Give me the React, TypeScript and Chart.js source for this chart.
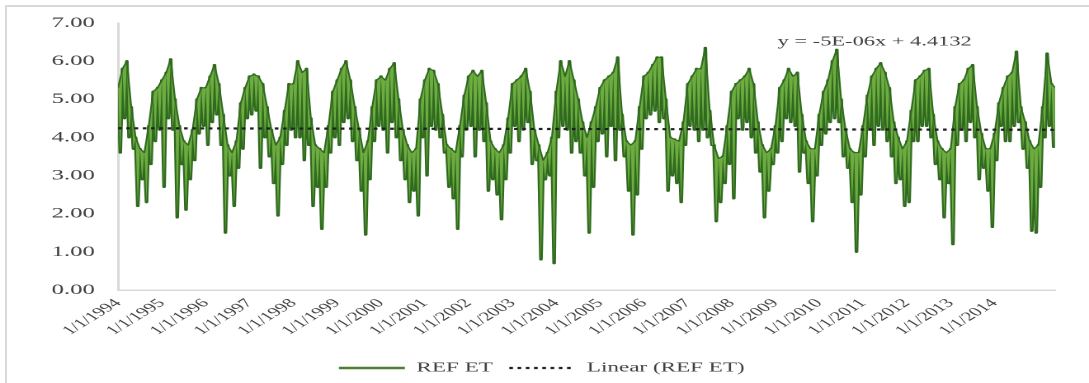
import React, { useEffect, useRef } from "react";
import { Chart, registerables } from "chart.js";

Chart.register(...registerables);

// ---- data ----
const years = [1994, 1995, 1996, 1997, 1998, 1999, 2000, 2001, 2002, 2003, 2004, 2005, 2006, 2007, 2008, 2009, 2010, 2011, 2012, 2013, 2014, 2015];
// samples every 0.05 year, alternating upper / lower envelope of the daily REF ET trace
const sampleStep = 0.05;

const et1994 = [5.3, 3.6, 5.8, 4.5, 6.0, 4.0, 4.8, 3.7, 4.0, 2.2, 3.7, 2.9, 3.6, 2.3, 4.3, 3.3, 5.2, 3.9, 5.3, 4.2];
const et1995 = [5.5, 2.7, 5.7, 4.5, 6.05, 4.2, 5.0, 1.9, 4.3, 3.3, 3.9, 2.1, 3.8, 2.9, 4.2, 3.4, 5.0, 4.1, 5.3, 4.3];
const et1996 = [5.3, 3.8, 5.6, 4.4, 5.9, 4.6, 5.4, 3.8, 4.6, 1.5, 3.8, 3.0, 3.6, 2.2, 3.9, 3.2, 4.9, 3.7, 5.3, 4.5];
const et1997 = [5.6, 4.6, 5.65, 4.7, 5.6, 3.2, 5.4, 4.0, 4.8, 3.5, 4.2, 2.8, 3.8, 1.95, 4.0, 3.3, 4.7, 3.8, 5.4, 4.2];
const et1998 = [5.4, 4.0, 6.0, 4.0, 5.7, 3.4, 5.8, 3.8, 4.5, 2.2, 3.8, 2.7, 3.7, 1.6, 3.6, 2.7, 4.3, 3.6, 5.2, 4.0];
const et1999 = [5.5, 3.8, 5.8, 4.4, 6.0, 4.5, 5.5, 3.9, 4.8, 3.4, 4.2, 2.6, 3.6, 1.45, 3.9, 2.9, 4.8, 3.9, 5.5, 4.3];
const et2000 = [5.6, 4.2, 5.5, 3.6, 5.8, 4.4, 5.95, 4.0, 5.0, 3.4, 4.2, 2.9, 3.8, 2.3, 3.6, 2.6, 3.7, 1.95, 5.0, 4.0];
const et2001 = [5.5, 3.0, 5.8, 4.3, 5.75, 4.2, 5.4, 4.0, 4.6, 3.6, 3.8, 2.7, 3.7, 2.4, 3.6, 1.6, 4.3, 3.5, 5.1, 4.2];
const et2002 = [5.6, 4.3, 5.75, 3.5, 5.6, 4.2, 5.75, 3.9, 4.9, 2.6, 3.9, 2.9, 3.7, 2.5, 3.6, 1.85, 3.8, 2.9, 4.5, 3.6];
const et2003 = [5.4, 4.3, 5.5, 3.9, 5.6, 4.2, 5.8, 4.4, 5.2, 3.3, 4.2, 3.4, 3.8, 0.8, 3.4, 2.9, 3.6, 3.0, 4.0, 0.7];
const et2004 = [5.2, 4.0, 6.0, 4.3, 5.6, 4.2, 6.0, 3.6, 5.5, 3.9, 5.0, 3.6, 4.4, 3.0, 4.0, 1.5, 4.4, 2.7, 4.8, 3.9];
const et2005 = [5.3, 4.1, 5.5, 3.5, 5.6, 4.3, 5.7, 3.4, 6.1, 4.2, 4.6, 3.5, 3.9, 2.6, 3.8, 1.45, 3.9, 2.5, 4.8, 3.7];
const et2006 = [5.6, 4.5, 5.7, 4.6, 5.9, 4.7, 6.1, 4.4, 6.1, 4.5, 5.0, 2.6, 4.0, 3.0, 3.95, 2.8, 3.9, 2.3, 4.4, 3.8];
const et2007 = [5.4, 4.3, 5.6, 4.2, 5.8, 3.9, 5.8, 4.2, 6.35, 4.0, 4.7, 3.8, 3.8, 1.8, 3.45, 2.3, 3.5, 2.8, 4.3, 3.3];
const et2008 = [5.2, 2.4, 5.4, 4.5, 5.5, 4.2, 5.6, 4.4, 5.8, 4.0, 5.4, 3.6, 4.4, 3.1, 3.8, 1.9, 3.6, 2.6, 3.7, 3.3];
const et2009 = [4.3, 3.6, 5.3, 3.9, 5.5, 4.5, 5.8, 4.4, 5.6, 4.3, 5.7, 3.1, 4.6, 3.6, 3.9, 2.8, 3.7, 1.8, 3.7, 3.0];
const et2010 = [4.6, 3.8, 5.2, 4.1, 5.5, 4.4, 6.0, 4.5, 6.3, 4.4, 5.0, 3.5, 4.2, 3.2, 3.7, 2.3, 3.6, 1.0, 3.6, 2.5];
const et2011 = [4.3, 3.5, 5.1, 4.2, 5.6, 3.8, 5.8, 4.3, 5.95, 4.2, 5.7, 3.9, 5.3, 3.5, 4.4, 2.8, 4.0, 2.9, 3.7, 2.2];
const et2012 = [3.9, 2.3, 4.7, 3.9, 5.5, 3.9, 5.6, 4.3, 5.75, 4.3, 5.8, 4.0, 4.6, 3.3, 3.9, 2.9, 3.7, 1.9, 3.6, 2.8];
const et2013 = [3.7, 1.2, 4.8, 3.8, 5.4, 4.2, 5.5, 3.9, 5.8, 4.4, 5.9, 4.0, 4.8, 2.9, 4.1, 3.2, 3.7, 2.6, 3.7, 1.65];
const et2014 = [4.1, 3.4, 4.9, 4.3, 5.3, 3.9, 5.6, 3.9, 5.7, 4.3, 6.25, 4.4, 4.8, 3.7, 4.4, 3.2, 3.9, 1.55, 3.7, 1.5];
const et2015 = [3.8, 2.7, 4.8, 4.0, 6.2, 4.3, 5.4, 3.75, 5.3];

const etByYear = [et1994, et1995, et1996, et1997, et1998, et1999, et2000, et2001, et2002, et2003, et2004, et2005, et2006, et2007, et2008, et2009, et2010, et2011, et2012, et2013, et2014, et2015];

// linear trend (REF ET) at the first and last sample
const trendValues = [4.24, 4.2];
const trendEquation = "y = -5E-06x + 4.4132";

const tickLabels = ["1/1/1994", "1/1/1995", "1/1/1996", "1/1/1997", "1/1/1998", "1/1/1999", "1/1/2000", "1/1/2001", "1/1/2002", "1/1/2003", "1/1/2004", "1/1/2005", "1/1/2006", "1/1/2007", "1/1/2008", "1/1/2009", "1/1/2010", "1/1/2011", "1/1/2012", "1/1/2013", "1/1/2014"];
const yTicks = [0, 1, 2, 3, 4, 5, 6, 7];

// ---- layout / style ----
const STRETCH = 1.65; // the reference image is horizontally stretched
const CW = 660;
const CH = 385;
const FONT = "'Liberation Serif', 'Times New Roman', serif";
const TEXT = "#404040";
const AXIS = "#d9d9d9";
const LIGHT = "#6eac42";
const DARK = "#2f6a1e";
const TREND = "#1e1e1e";
const TREND_DASH = [2.2, 2.8];
const EQ_POS = { year: 2009.05, value: 6.5 };

export default function App() {
  const ref = useRef<HTMLCanvasElement | null>(null);

  useEffect(() => {
    if (!ref.current) return;
    const etPoints = years.flatMap((yr, k) =>
      etByYear[k].map((v, i) => ({ x: yr + i * sampleStep, y: v, hi: i % 2 === 0 }))
    );
    const upperPoints = etPoints.filter((p) => p.hi);
    const x0 = etPoints[0].x;
    const x1 = etPoints[etPoints.length - 1].x;
    const trendPoints = [
      { x: x0, y: trendValues[0] },
      { x: x1, y: trendValues[1] },
    ];
    const tickYears = tickLabels.map((t) => parseInt(t.split("/")[2], 10));

    const eqPlugin = {
      id: "eqLabel",
      afterDraw(chart: any) {
        const { ctx, scales } = chart;
        ctx.save();
        ctx.font = `13.6px ${FONT}`;
        ctx.fillStyle = TEXT;
        ctx.textBaseline = "middle";
        ctx.textAlign = "left";
        ctx.fillText(
          trendEquation,
          scales.x.getPixelForValue(EQ_POS.year),
          scales.y.getPixelForValue(EQ_POS.value)
        );
        ctx.restore();
      },
    };

    const chart = new Chart(ref.current, {
      type: "line",
      data: {
        datasets: [
          {
            // daily trace: light band between the zig-zag and its upper envelope
            label: "REF ET",
            data: etPoints,
            borderColor: LIGHT,
            backgroundColor: LIGHT,
            borderWidth: 0,
            pointRadius: 0,
            tension: 0,
            fill: 3,
            order: 1,
          },
          {
            label: "Linear (REF ET)",
            data: trendPoints,
            borderColor: TREND,
            borderWidth: 2.2,
            borderDash: TREND_DASH,
            borderCapStyle: "butt",
            pointRadius: 0,
            order: 0,
          },
          {
            label: "outline",
            data: etPoints,
            borderColor: DARK,
            borderWidth: 2.2,
            pointRadius: 0,
            tension: 0,
            borderJoinStyle: "round",
            borderCapStyle: "round",
            fill: false,
            order: 2,
          },
          {
            label: "upper",
            data: upperPoints,
            borderColor: DARK,
            borderWidth: 1.1,
            pointRadius: 0,
            tension: 0,
            borderJoinStyle: "round",
            fill: false,
            order: 0.5,
          },
        ],
      },
      options: {
        responsive: false,
        maintainAspectRatio: false,
        animation: false,
        devicePixelRatio: 2,
        events: [],
        layout: { padding: { top: 21, left: 17.3, right: 20.6, bottom: 0 } },
        scales: {
          x: {
            type: "linear",
            min: x0,
            max: 2015.38,
            grid: { display: false, drawTicks: false },
            border: { display: true, color: AXIS, width: 1.5 },
            afterBuildTicks: (s: any) => {
              s.ticks = tickYears.map((v) => ({ value: v }));
            },
            afterFit: (s: any) => {
              s.height = 61;
            },
            ticks: {
              autoSkip: false,
              minRotation: 45,
              maxRotation: 45,
              padding: 6,
              color: TEXT,
              font: { family: FONT, size: 12.5 },
              callback: (v: any) => {
                const i = tickYears.indexOf(Number(v));
                return i >= 0 ? tickLabels[i] : "";
              },
            },
          },
          y: {
            min: 0,
            max: 7,
            grid: { display: false, drawTicks: false },
            border: { display: true, color: AXIS, width: 1.5 },
            afterBuildTicks: (s: any) => {
              s.ticks = yTicks.map((v) => ({ value: v }));
            },
            ticks: {
              padding: 14,
              color: TEXT,
              font: { family: FONT, size: 15 },
              callback: (v: any) => Number(v).toFixed(2),
            },
          },
        },
        plugins: {
          tooltip: { enabled: false },
          legend: {
            position: "bottom",
            labels: {
              usePointStyle: true,
              pointStyle: "line",
              pointStyleWidth: 40,
              padding: 10,
              color: TEXT,
              font: { family: FONT, size: 14 },
              filter: (item: any) => item.text !== "outline" && item.text !== "upper",
              sort: (a: any, b: any) => a.datasetIndex - b.datasetIndex,
              generateLabels: (c: any) => {
                const items = (Chart as any).defaults.plugins.legend.labels.generateLabels(c);
                return items.map((it: any) => {
                  if (it.text === "REF ET") {
                    return { ...it, strokeStyle: "#4f7f31", lineWidth: 2.4, lineDash: [] };
                  }
                  if (it.text === "Linear (REF ET)") {
                    return { ...it, strokeStyle: TREND, lineWidth: 2.2, lineDash: TREND_DASH, lineCap: "butt" };
                  }
                  return it;
                });
              },
            },
          },
        },
      },
      plugins: [eqPlugin],
    } as any);

    return () => chart.destroy();
  }, []);

  return (
    <div
      style={{
        position: "fixed",
        left: 0,
        top: 0,
        width: 1089,
        height: 383,
        overflow: "hidden",
        background: "#ffffff",
      }}
    >
      <div
        style={{
          position: "absolute",
          left: 5,
          top: 5,
          width: 1100,
          height: 400,
          borderLeft: `2px solid ${AXIS}`,
          borderTop: `2px solid ${AXIS}`,
        }}
      />
      <div
        style={{
          position: "absolute",
          left: 0,
          top: 0,
          width: CW,
          height: CH,
          transform: `scaleX(${STRETCH})`,
          transformOrigin: "0 0",
        }}
      >
        <canvas ref={ref} width={CW} height={CH} style={{ display: "block" }} />
      </div>
    </div>
  );
}
